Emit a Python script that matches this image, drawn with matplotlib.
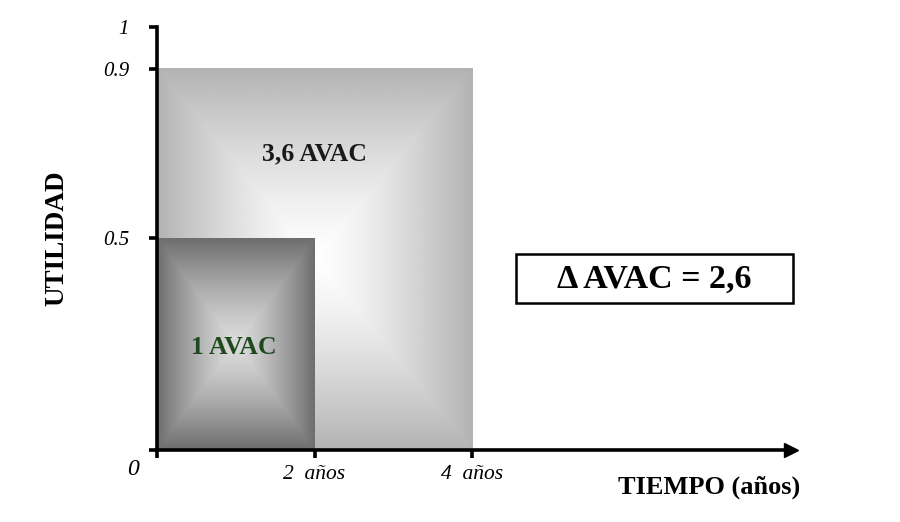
import numpy as np
import matplotlib
matplotlib.use("Agg")
import matplotlib.pyplot as plt
from matplotlib.patches import Rectangle

# datos del gráfico
anios = [4, 2]            # duración de cada escenario (años)
utilidad = [0.9, 0.5]     # utilidad de cada escenario
etiquetas = ['3,6 AVAC', '1 AVAC']
x_ticks = [0, 2, 4]
x_ticklabels = ['', '2  años', '4  años']
y_ticks = [0, 0.5, 0.9, 1]
y_ticklabels = ['', '0.5', '0.9', '1']
delta_texto = 'Δ AVAC = 2,6'

plt.rcParams['font.family'] = ['Liberation Serif', 'DejaVu Serif']


def gradiente(ax, w, h, borde, centro, z):
    # degradado "piramidal": claro en el centro, oscuro en los bordes
    n = 300
    u = np.linspace(-1, 1, n)
    U, V = np.meshgrid(u, u)
    t = np.maximum(np.abs(U), np.abs(V)) ** 1.3
    img = centro + (borde - centro) * t
    ax.imshow(img, cmap='gray', vmin=0, vmax=1, extent=[0, w, 0, h],
              aspect='auto', interpolation='bilinear', zorder=z)


fig = plt.figure(figsize=(9, 5.22), dpi=100)
ax = fig.add_axes([157 / 900, 72 / 522, 634 / 900, 423.5 / 522])

estilos = [(0.70, 1.0, 1), (0.43, 0.86, 2)]
for w, h, (borde, centro, z) in zip(anios, utilidad, estilos):
    gradiente(ax, w, h, borde, centro, z)

pos_etiquetas = [(2.0, 0.70), (0.97, 0.242)]
colores = ['#1a1a1a', '#1e4a1e']
for (x, y), txt, c in zip(pos_etiquetas, etiquetas, colores):
    ax.text(x, y, txt, ha='center', va='center', fontsize=18.5,
            fontweight='bold', color=c, zorder=5)

ax.set_xlim(0, 8.05)
ax.set_ylim(0, 1)
for s in ['top', 'right']:
    ax.spines[s].set_visible(False)
for s in ['left', 'bottom']:
    ax.spines[s].set_linewidth(2.6)
    ax.spines[s].set_zorder(6)

ax.set_xticks(x_ticks)
ax.set_xticklabels(x_ticklabels, fontsize=15.5, fontstyle='italic')
ax.set_yticks(y_ticks)
ax.set_yticklabels(y_ticklabels, fontsize=15, fontstyle='italic')
ax.tick_params(axis='x', direction='out', length=6, width=2.6, pad=5)
ax.tick_params(axis='y', direction='out', length=6, width=2.6, pad=14)

# flecha del eje x
ax.plot(1, 0, '>', color='black', markersize=10,
        transform=ax.get_yaxis_transform(), clip_on=False, zorder=7)

ax.text(-0.31, -0.047, '0', ha='center', va='center', fontsize=17,
        fontstyle='italic', clip_on=False)

fig.text(800 / 900, 1 - 487 / 522, 'TIEMPO (años)', ha='right', va='center',
         fontsize=19, fontweight='bold')
fig.text(57 / 900, 1 - 238 / 522, 'UTILIDAD', ha='center', va='center',
         rotation=90, fontsize=19.5, fontweight='bold')

fig.patches.append(Rectangle((516 / 900, 1 - 303 / 522), 277 / 900, 49 / 522,
                             transform=fig.transFigure, fill=False,
                             edgecolor='black', linewidth=1.8))
fig.text(654 / 900, 1 - 279 / 522, delta_texto, ha='center', va='center',
         fontsize=24.5, fontweight='bold')

fig.savefig('out.png', dpi=100, facecolor='white')
